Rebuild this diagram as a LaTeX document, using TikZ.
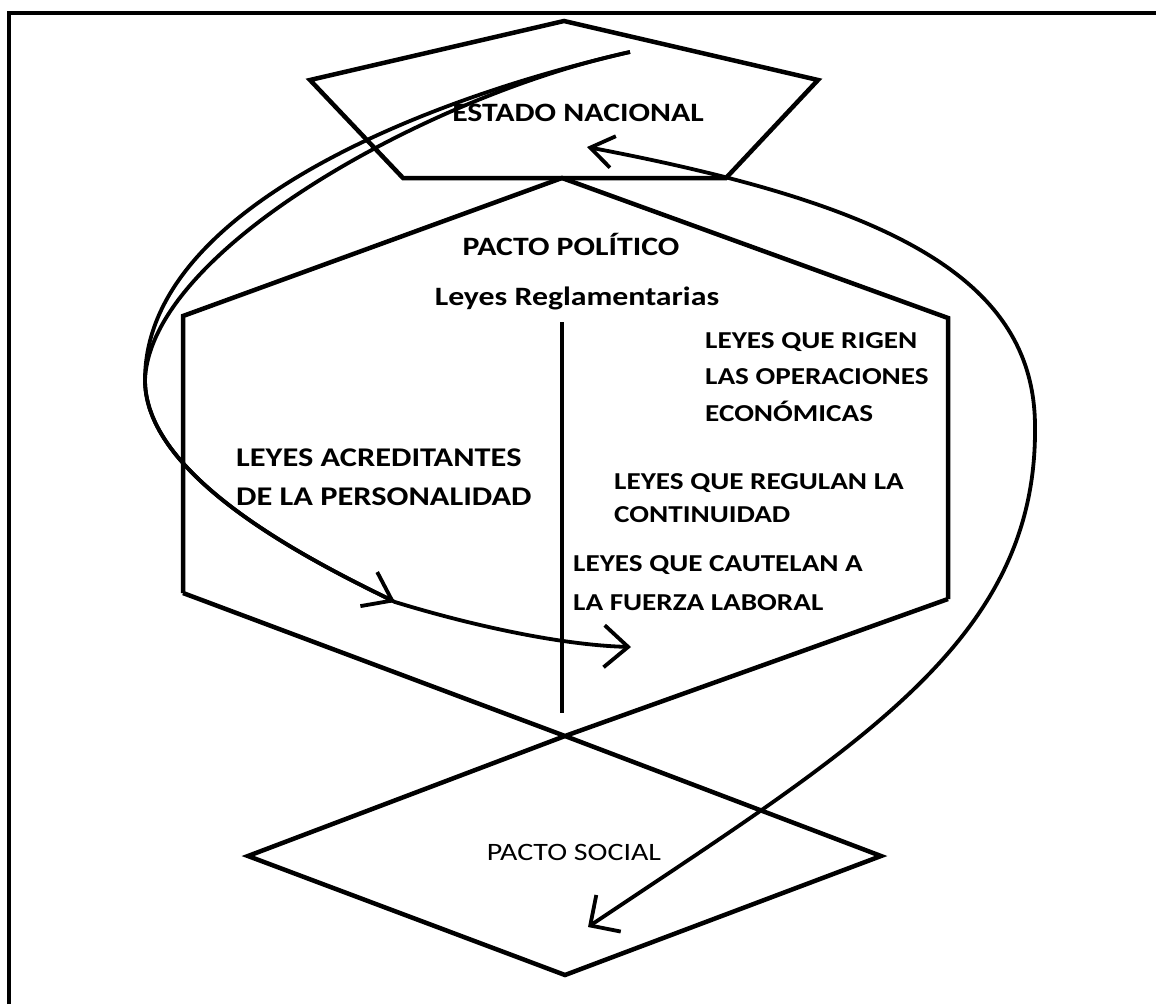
\documentclass[tikz,border=0pt]{standalone}
\usepackage{graphicx}
\usepackage{fontspec}
\setmainfont{Carlito}
\usetikzlibrary{arrows.meta}
% horizontally widened lettering
\newcommand\widetext[1]{\scalebox{1.2}[1]{#1}}
\begin{document}
\begin{tikzpicture}[x=1pt,y=-1pt,line join=miter,
  shapeline/.style={line width=4.5pt},
  flow/.style={line width=3.8pt},
  txt/.style={inner sep=0pt,font=\bfseries},
]
\useasboundingbox (0,0) rectangle (1156,1004);

% outer frame (top and left edges)
\draw[line width=4pt] (9,1004) -- (9,13) -- (1156,13);

% key points of the figure
\coordinate (pTop) at (564,21);
\coordinate (pUL)  at (310,80);
\coordinate (pUR)  at (818,80);
\coordinate (pLL)  at (403,178);
\coordinate (pLR)  at (726,178);
\coordinate (hTop) at (562,178);
\coordinate (hUL)  at (183,316);
\coordinate (hUR)  at (948,318);
\coordinate (hLL)  at (183,593);
\coordinate (hLR)  at (948,599);
\coordinate (cross) at (565,736);
\coordinate (dL) at (248,856);
\coordinate (dR) at (881,856);
\coordinate (dB) at (565,975);

% pentagon: Estado Nacional
\draw[shapeline] (pTop) -- (pUR) -- (pLR) -- (pLL) -- (pUL) -- cycle;
% hexagon: Pacto Politico
\draw[shapeline] (hLL) -- (hUL) -- (hTop) -- (hUR) -- (hLR);
% lower edges crossing into the diamond: Pacto Social
\begin{scope}
  \clip (0,0) rectangle (1156,977);
  \draw[shapeline] (hLL) -- (cross) -- (dR) -- (dB) -- (dL) -- (cross) -- (hLR);
\end{scope}

% central divider
\coordinate (vTop) at (562,322);
\coordinate (vBot) at (562,713);
\draw[line width=3.5pt] (vTop) -- (vBot);

% labels
\node[txt,font=\bfseries\fontsize{26.5}{30}\selectfont,anchor=base] (estado) at (578,121) {\widetext{ESTADO NACIONAL}};
\node[txt,font=\bfseries\fontsize{26.5}{30}\selectfont,anchor=base] (politico) at (571,255) {\widetext{PACTO POLÍTICO}};
\node[txt,font=\bfseries\fontsize{26.5}{30}\selectfont,anchor=base] (reglam) at (577,305) {\widetext{Leyes Reglamentarias}};
\node[txt,anchor=base west] (rigen) at (705,348) {\widetext{\fontsize{24.3}{36.5}\selectfont\begin{tabular}[t]{@{}l@{}}LEYES QUE RIGEN\\LAS OPERACIONES\\ECONÓMICAS\end{tabular}}};
\node[txt,anchor=base west] (acred) at (236,466.5) {\widetext{\fontsize{27}{39}\selectfont\begin{tabular}[t]{@{}l@{}}LEYES ACREDITANTES\\DE LA PERSONALIDAD\end{tabular}}};
\node[txt,anchor=base west] (regulan) at (614,489) {\widetext{\fontsize{24.3}{33}\selectfont\begin{tabular}[t]{@{}l@{}}LEYES QUE REGULAN LA\\CONTINUIDAD\end{tabular}}};
\node[txt,anchor=base west] (cautelan) at (573,571) {\widetext{\fontsize{24.3}{39}\selectfont\begin{tabular}[t]{@{}l@{}}LEYES QUE CAUTELAN A\\LA FUERZA LABORAL\end{tabular}}};
\node[txt,font=\mdseries\fontsize{25}{30}\selectfont,anchor=base] (social) at (574,860) {\widetext{PACTO SOCIAL}};

% flows from the State down to the laws
\coordinate (srcL) at (630,52);
\coordinate (westL) at (145,380);
\coordinate (tipA) at (395,602);
\coordinate (tipB) at (631,647);
\draw[flow,-{Straight Barb[length=24pt,width=42pt]}]
  (srcL) .. controls (420,100) and (145,210) .. (westL)
         .. controls (145,480) and (320,565) .. (tipA)
         .. controls (470,625) and (560,645) .. (tipB);
\draw[flow,-{Straight Barb[length=26pt,width=38pt]}]
  (srcL) .. controls (430,95) and (150,250) .. (westL)
         .. controls (145,480) and (320,565) .. (tipA);

% loop between the social pact and the State
\coordinate (tipC) at (587,147);
\coordinate (eastR) at (1035,427);
\coordinate (tipD) at (588,927);
\draw[flow,{Straight Barb[length=23pt,width=32pt]}-{Straight Barb[length=22pt,width=44pt]}]
  (tipC) .. controls (887,204) and (1035,277) .. (eastR)
         .. controls (1037,640) and (860,745) .. (tipD);
\end{tikzpicture}
\end{document}
